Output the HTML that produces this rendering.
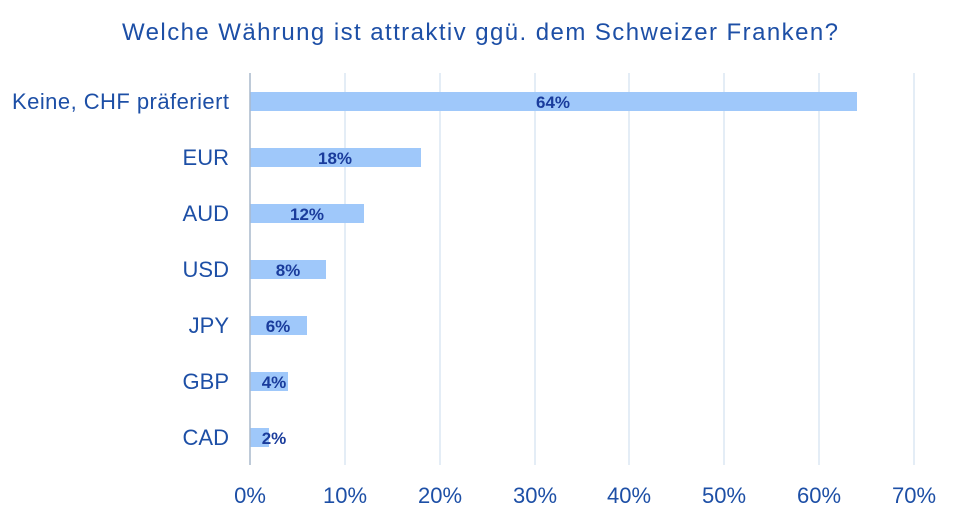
<!DOCTYPE html>
<html><head><meta charset="utf-8"><style>
body{margin:0;background:#fff;width:960px;height:522px;overflow:hidden}
</style></head><body>
<svg width="960" height="522" xmlns="http://www.w3.org/2000/svg" font-family="Liberation Sans, DejaVu Sans, sans-serif">
<text x="122" y="40" font-size="24" fill="#1d4fa6" textLength="716" lengthAdjust="spacing">Welche Währung ist attraktiv ggü. dem Schweizer Franken?</text>
<g stroke="#dbe7f3" stroke-width="1.5">
<line x1="345" y1="73" x2="345" y2="465"/><line x1="440" y1="73" x2="440" y2="465"/><line x1="535" y1="73" x2="535" y2="465"/><line x1="629" y1="73" x2="629" y2="465"/><line x1="724" y1="73" x2="724" y2="465"/><line x1="819" y1="73" x2="819" y2="465"/><line x1="914" y1="73" x2="914" y2="465"/>
</g>
<g fill="#9fc8fa">
<rect x="250" y="92" width="607" height="19"/>
<rect x="250" y="148" width="171" height="19"/>
<rect x="250" y="204" width="114" height="19"/>
<rect x="250" y="260" width="76" height="19"/>
<rect x="250" y="316" width="57" height="19"/>
<rect x="250" y="372" width="38" height="19"/>
<rect x="250" y="428" width="19" height="19"/>
</g>
<line x1="250" y1="73" x2="250" y2="465" stroke="#a9b8cc" stroke-width="1.5"/>
<g font-size="17" font-weight="bold" fill="#1a3c9c" text-anchor="middle">
<text x="553" y="108">64%</text><text x="335" y="164">18%</text><text x="307" y="220">12%</text><text x="288" y="276">8%</text><text x="278" y="332">6%</text><text x="274" y="388">4%</text><text x="274" y="444">2%</text>
</g>
<g font-size="22" fill="#1d4fa6" text-anchor="end">
<text x="229" y="109" textLength="217" lengthAdjust="spacing">Keine, CHF präferiert</text><text x="229" y="165">EUR</text><text x="229" y="221">AUD</text><text x="229" y="277">USD</text><text x="229" y="333">JPY</text><text x="229" y="389">GBP</text><text x="229" y="445">CAD</text>
</g>
<g font-size="22" fill="#1d4fa6" text-anchor="middle">
<text x="250" y="503">0%</text><text x="345" y="503">10%</text><text x="440" y="503">20%</text><text x="535" y="503">30%</text><text x="629" y="503">40%</text><text x="724" y="503">50%</text><text x="819" y="503">60%</text><text x="914" y="503">70%</text>
</g>
</svg>
</body></html>
